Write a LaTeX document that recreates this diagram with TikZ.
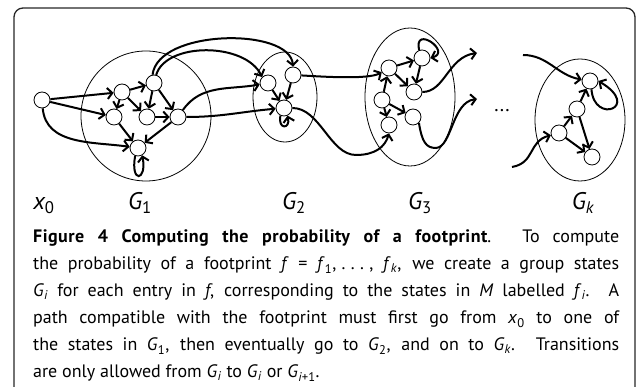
\documentclass[tikz,border=0pt]{standalone}
\usepackage{fontspec}
\setmainfont{PT Sans}[BoldFeatures={LetterSpace=2.5}]
\usetikzlibrary{arrows.meta,shapes.geometric}
\newcommand{\capline}[1]{\makebox[586pt][s]{#1}}
\newcommand{\vsub}[2]{\textit{#1}\textsubscript{\upshape #2}}

\begin{document}
\begin{tikzpicture}[
  x=1pt,y=1pt,
  state/.style={draw,circle,line width=0.8pt,fill=white,minimum size=16pt,inner sep=0pt},
  group/.style={draw,line width=0.8pt,inner sep=0pt},
  arr/.style={-{Straight Barb[length=5pt,width=11pt]},line width=2pt},
  lbl/.style={anchor=base,inner sep=0pt,font=\fontsize{24}{24}\selectfont\itshape},
  capl/.style={anchor=base west,inner sep=0pt,font=\fontsize{18}{27}\selectfont}
]
\useasboundingbox (0,0) rectangle (637,387);
\draw[line width=1.3pt,black!85,rounded corners=9pt] (14,-20) rectangle (635,379);

% groups
\node[group,circle,minimum size=130pt] (G1) at (146,271) {};
\node[group,ellipse,minimum width=64pt,minimum height=90pt] (G2) at (285,290) {};
\node[group,ellipse,minimum width=90pt,minimum height=138pt] (G3) at (410,290) {};
\node[group,ellipse,minimum width=90pt,minimum height=122pt] (Gk) at (580,267) {};

% states
\node[state] (x0) at (42,287) {};
\node[state] (n11) at (122,295) {};
\node[state] (n12) at (154,304) {};
\node[state] (n13) at (114,270) {};
\node[state] (n14) at (147,270) {};
\node[state] (n15) at (178,270) {};
\node[state] (n16) at (138,239) {};

\node[state] (n21) at (268,304) {};
\node[state] (n22) at (293,312) {};
\node[state] (n23) at (284,279) {};

\node[state] (n31) at (389,319) {};
\node[state] (n32) at (422,329) {};
\node[state] (n33) at (414,295) {};
\node[state] (n34) at (382,287) {};
\node[state] (n35) at (413,270) {};
\node[state] (n36) at (389,262) {};

\node[state] (nk1) at (590,306) {};
\node[state] (nk2) at (577,278) {};
\node[state] (nk3) at (559,254) {};
\node[state] (nk4) at (592,230) {};

\node[font=\fontsize{20}{20}\selectfont] (dots) at (502,276) {...};

\coordinate (out1) at (477,334);
\coordinate (out2) at (477,288);
\coordinate (in1) at (523,332);
\coordinate (in2) at (512,220);

% x0 into G1
\draw[arr] (x0) -- (n11);
\draw[arr] (x0) -- (n13);
\draw[arr] (x0) to[out=-85,in=172] (n16);

% G1
\draw[arr] (n11) -- (n12);
\draw[arr] (n11) -- (n13);
\draw[arr] (n11) -- (n14);
\draw[arr] (n12) -- (n14);
\draw[arr] (n12) -- (n15);
\draw[arr] (n14) -- (n15);
\draw[arr] (n13) -- (n16);
\draw[arr] (n15) -- (n16);
\draw[arr] (n16.-110) .. controls +(-5,-28) and +(5,-26) .. (n16.-60);

% G1 to G2
\draw[arr] (n12.100) .. controls (158,358) and (290,360) .. (n22.north);
\draw[arr] (n12.75) .. controls (166,345) and (245,345) .. (n21.north west);
\draw[arr] (n15) to[out=55,in=190] (n21);
\draw[arr] (n15) to[out=0,in=185] (n23);

% G2
\draw[arr] (n21) -- (n23);
\draw[arr] (n22) -- (n23);
\draw[arr] (n23.-115) .. controls +(-3,-14) and +(3,-14) .. (n23.-65);

% G2 to G3
\draw[arr] (n22) to[out=-3,in=210,looseness=0.5] (n31);
\draw[arr] (n23.east) .. controls (320,279) and (330,232) .. (356,232)
  .. controls (375,232) and (385,240) .. (n36.south);

% G3
\draw[arr] (n32.110) .. controls +(-6,26) and +(22,6) .. (n32.east);
\draw[arr] (n31) -- (n32);
\draw[arr] (n32) -- (n33);
\draw[arr] (n31) -- (n33);
\draw[arr] (n34) -- (n31);
\draw[arr] (n34) -- (n35);
\draw[arr] (n34) -- (n36);
\draw[arr] (n33.east) .. controls (445,295) and (448,330) .. (out1);
\draw[arr] (n35.south east) .. controls (422,245) and (426,239) .. (436,239)
  .. controls (452,240) and (452,285) .. (out2);

% Gk
\draw[arr] (in1) to[out=0,in=170] (nk1);
\draw[arr] (in2) to[out=10,in=195,looseness=1.2] (nk3);
\draw[arr] (nk3) -- (nk2);
\draw[arr] (nk2) -- (nk1);
\draw[arr] (nk2) -- (nk4);
\draw[arr] (nk3) -- (nk4);
\draw[arr] (nk1.-80) .. controls (594,262) and (642,280) .. (nk1.east);

% labels
\node[lbl] (lx0) at (44,177) {x\textsubscript{\upshape 0}};
\node[lbl] (lg1) at (140,177) {G\textsubscript{\upshape 1}};
\node[lbl] (lg2) at (294,177) {G\textsubscript{\upshape 2}};
\node[lbl] (lg3) at (420,177) {G\textsubscript{\upshape 3}};
\node[lbl] (lgk) at (583,177) {G\textsubscript{k}};

% caption
\node[capl] (cap1) at (33,144) {\capline{\textbf{Figure 4 Computing the probability of a footprint}. To compute}};
\node[capl] (cap2) at (33,117) {\capline{the probability of a footprint \textit{f} = \vsub{f}{1},\hspace{0.3em}.\hspace{0.3em}.\hspace{0.3em}.\hspace{0.3em},\ \vsub{f}{\textit{k}}, we create a group states}};
\node[capl] (cap3) at (33,90) {\capline{\vsub{G}{\textit{i}} for each entry in \textit{f}, corresponding to the states in \textit{M} labelled \vsub{f}{\textit{i}}. A}};
\node[capl] (cap4) at (33,63) {\capline{path compatible with the footprint must first go from \vsub{x}{0} to one of}};
\node[capl] (cap5) at (33,36) {\capline{the states in \vsub{G}{1}, then eventually go to \vsub{G}{2}, and on to \vsub{G}{\textit{k}}. Transitions}};
\node[capl] (cap6) at (33,9) {are only allowed from \vsub{G}{\textit{i}} to \vsub{G}{\textit{i}} or \vsub{G}{\textit{i}+1}.};

\end{tikzpicture}
\end{document}
